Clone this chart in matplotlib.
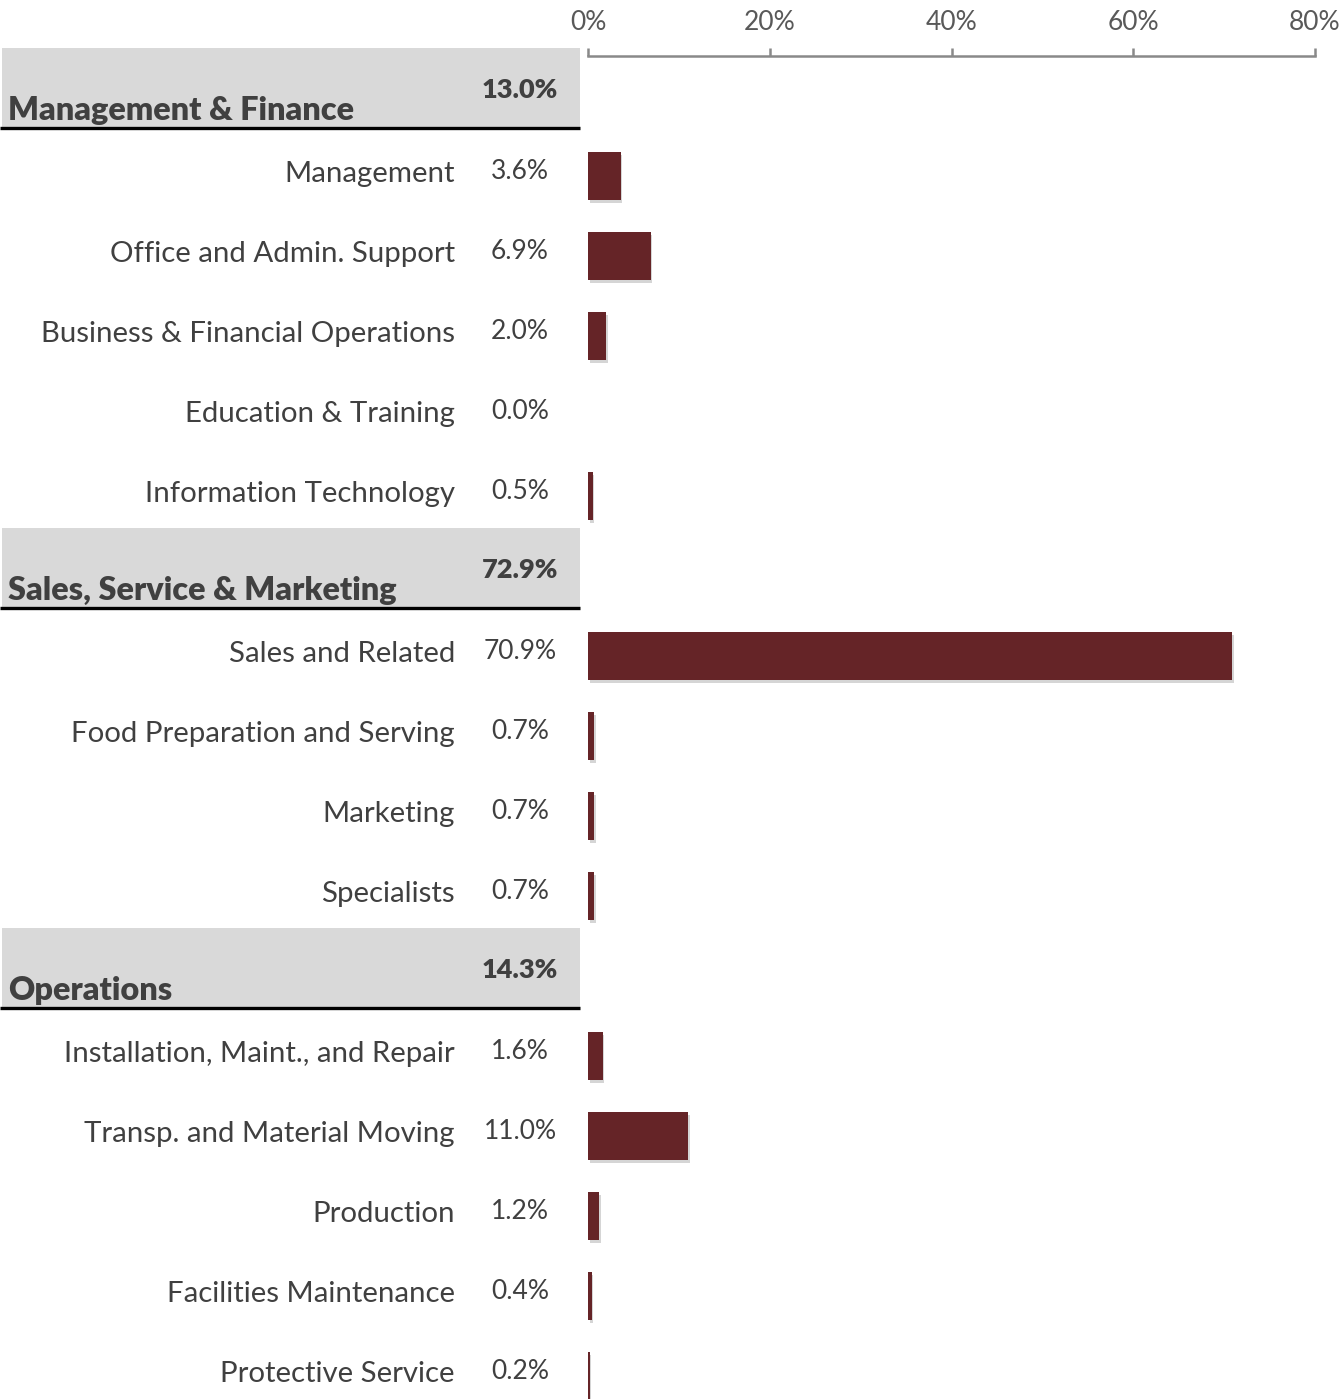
import numpy as np
import matplotlib.pyplot as plt
import matplotlib.patheffects as pe
import matplotlib.transforms as mtransforms
from matplotlib.patches import Rectangle

plt.rcParams['font.family'] = ['Lato', 'DejaVu Sans']

# occupation groups and their totals
group_names = ['Management & Finance', 'Sales, Service & Marketing', 'Operations']
group_shares = [13.0, 72.9, 14.3]

mgmt_jobs = ['Management', 'Office and Admin. Support', 'Business & Financial Operations',
             'Education & Training', 'Information Technology']
mgmt_shares = [3.6, 6.9, 2.0, 0.0, 0.5]

sales_jobs = ['Sales and Related', 'Food Preparation and Serving', 'Marketing', 'Specialists']
sales_shares = [70.9, 0.7, 0.7, 0.7]

ops_jobs = ['Installation, Maint., and Repair', 'Transp. and Material Moving', 'Production',
            'Facilities Maintenance', 'Protective Service']
ops_shares = [1.6, 11.0, 1.2, 0.4, 0.2]

x_ticks = [0, 20, 40, 60, 80]

bar_color = '#652427'
text_color = '#404040'
header_fill = '#d9d9d9'

W, H = 1343, 1399
fig = plt.figure(figsize=(W / 100, H / 100), dpi=100)
ax = fig.add_axes([588 / W, 0, (1315 - 588) / W, (H - 56) / H])

# one unit on y = one row of 80px, row 0 starts 48px from the top
ax.set_xlim(0, 80)
ax.set_ylim((H - 48) / 80, (56 - 48) / 80)

# x in figure fraction, y in rows
tr = mtransforms.blended_transform_factory(fig.transFigure, ax.transData)

shadow = [pe.SimplePatchShadow(offset=(1.2, -2.2), shadow_rgbFace='#777777', alpha=0.3),
          pe.Normal()]

groups = [(mgmt_jobs, mgmt_shares), (sales_jobs, sales_shares), (ops_jobs, ops_shares)]
row = 0
for name, total, (jobs, shares) in zip(group_names, group_shares, groups):
    # grey header band with a dark rule underneath
    ax.add_patch(Rectangle((2 / W, row), 578 / W, 1, transform=tr,
                           facecolor=header_fill, edgecolor='none', clip_on=False))
    ax.plot([0, 580 / W], [row + 1, row + 1], transform=tr, color='black',
            lw=2.4, clip_on=False, solid_capstyle='butt')
    ax.text(8 / W, row + 0.9, name, transform=tr, fontsize=23.3, fontweight='heavy',
            color=text_color, ha='left', va='baseline')
    ax.text(520 / W, row + 0.53, f'{total:.1f}%', transform=tr, fontsize=19.5,
            fontweight='heavy', color=text_color, ha='center', va='center')
    row += 1

    ys = row + np.arange(len(jobs)) + 0.6
    ax.barh(ys, shares, height=0.6, color=bar_color, path_effects=shadow, clip_on=False)
    for y, job, val in zip(ys, jobs, shares):
        ax.text(455 / W, y - 0.02, job, transform=tr, fontsize=21.2,
                color=text_color, ha='right', va='center')
        ax.text(520 / W, y - 0.06, f'{val:.1f}%', transform=tr, fontsize=19,
                color=text_color, ha='center', va='center')
    row += len(jobs)

# percentage axis along the top
ax.xaxis.tick_top()
ax.set_xticks(x_ticks)
ax.set_xticklabels([f'{t}%' for t in x_ticks])
ax.tick_params(axis='x', colors='#898989', length=6, width=1.8, pad=9,
               labelsize=19, labelcolor='#595959')
ax.tick_params(axis='y', left=False, labelleft=False)
for side in ['left', 'right', 'bottom']:
    ax.spines[side].set_visible(False)
ax.spines['top'].set_color('#898989')
ax.spines['top'].set_linewidth(1.8)

fig.savefig('out.png', dpi=100)
